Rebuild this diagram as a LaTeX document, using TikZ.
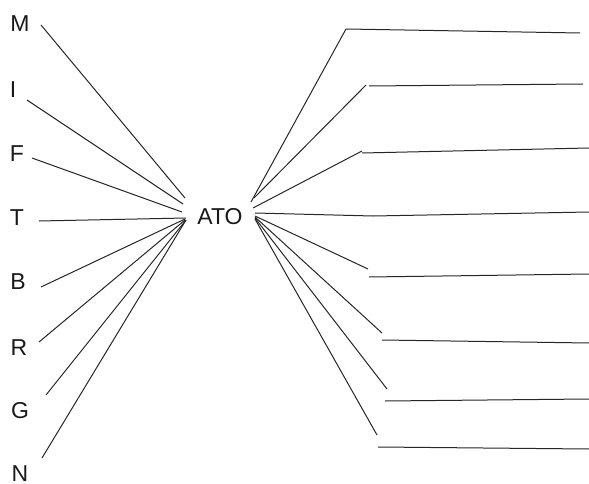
\documentclass[tikz,border=0pt]{standalone}
\usepackage{fontspec}
\setmainfont{Liberation Sans}
\begin{document}
\begin{tikzpicture}[x=1pt,y=-1pt,
  lbl/.style={inner sep=0pt,font=\fontsize{23}{25}\selectfont,text=black!90},
  wire/.style={draw=black!85,line width=1pt}]
\useasboundingbox (0,0) rectangle (589,484);
% left labels
\node[lbl] (M) at (20,24) {M};
\node[lbl] (I) at (13,90) {I};
\node[lbl] (F) at (17,154) {F};
\node[lbl] (T) at (17,218) {T};
\node[lbl] (B) at (18,282) {B};
\node[lbl] (R) at (19,348) {R};
\node[lbl] (G) at (20,411) {G};
\node[lbl] (N) at (20,474) {N};
\node[lbl] (ATO) at (220,217) {ATO};
% left line starts
\coordinate (m0) at (41,25);
\coordinate (i0) at (27,100);
\coordinate (f0) at (32,158);
\coordinate (t0) at (39,221);
\coordinate (b0) at (41,287);
\coordinate (r0) at (39,342);
\coordinate (g0) at (46,395);
\coordinate (n0) at (42,458);
% left line ends near ATO
\coordinate (m1) at (185,198);
\coordinate (i1) at (183,204);
\coordinate (f1) at (182,212);
\coordinate (t1) at (186,218);
\coordinate (b1) at (185,219);
\coordinate (r1) at (185,220);
\coordinate (g1) at (186,220);
\coordinate (n1) at (186,220);
\foreach \a in {m,i,f,t,b,r,g,n}{\draw[wire] (\a0) -- (\a1);}
% right side
\coordinate (s1) at (251,202); \coordinate (e1) at (346,29);  \coordinate (h1) at (346,29);  \coordinate (z1) at (580,33);
\coordinate (s2) at (254,198); \coordinate (e2) at (366,85);  \coordinate (h2) at (369,86);  \coordinate (z2) at (583,84);
\coordinate (s3) at (253,208); \coordinate (e3) at (362,151); \coordinate (h3) at (362,153); \coordinate (z3) at (589,148);
\coordinate (s4) at (255,213); \coordinate (e4) at (373,216); \coordinate (h4) at (373,216); \coordinate (z4) at (589,212);
\coordinate (s5) at (255,216); \coordinate (e5) at (368,269); \coordinate (h5) at (369,277); \coordinate (z5) at (589,274);
\coordinate (s6) at (255,217); \coordinate (e6) at (382,333); \coordinate (h6) at (382,340); \coordinate (z6) at (589,343);
\coordinate (s7) at (255,218); \coordinate (e7) at (387,389); \coordinate (h7) at (385,401); \coordinate (z7) at (589,399);
\coordinate (s8) at (255,219); \coordinate (e8) at (377,435); \coordinate (h8) at (378,447); \coordinate (z8) at (589,449);
\foreach \k in {1,...,8}{\draw[wire] (s\k) -- (e\k); \draw[wire] (h\k) -- (z\k);}
\end{tikzpicture}
\end{document}
